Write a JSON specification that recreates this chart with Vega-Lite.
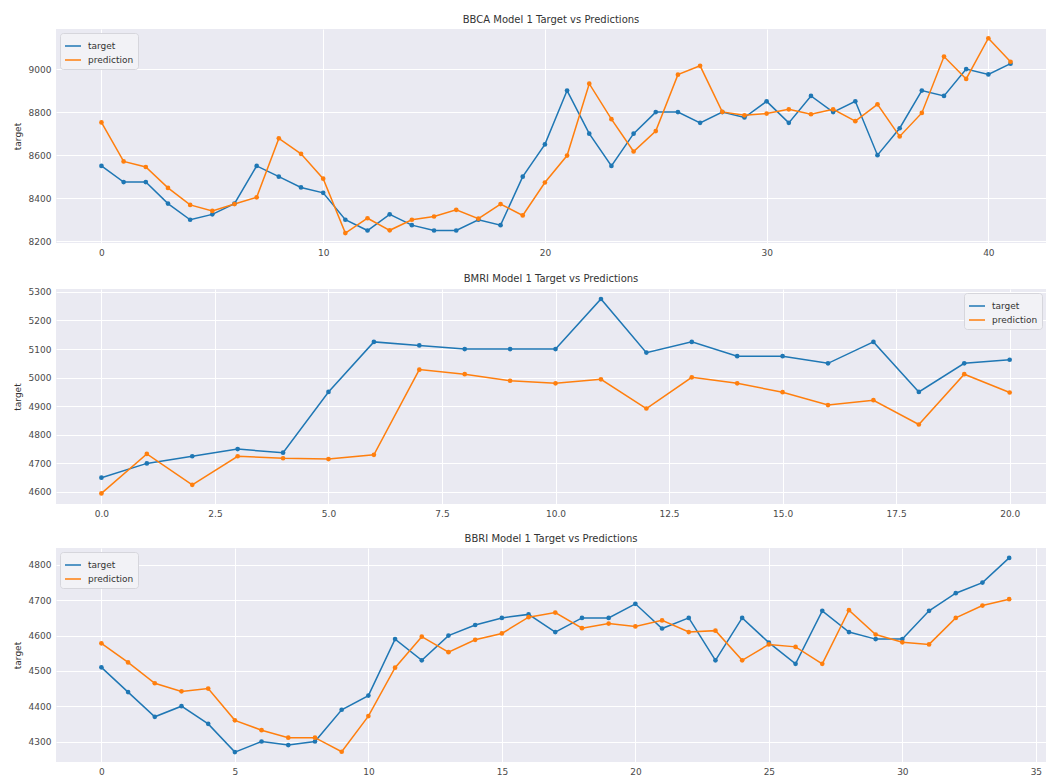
{
  "$schema": "https://vega.github.io/schema/vega-lite/v6.json",
  "background": "white",
  "padding": {"left": 13, "top": 15, "right": 0, "bottom": 0},
  "spacing": 16,
  "config": {
    "font": "DejaVu Sans",
    "view": {"fill": "#EAEAF2", "stroke": null},
    "axis": {
      "domain": false, "ticks": false, "gridColor": "#FFFFFF", "gridWidth": 1, "gridOpacity": 1,
      "labelFont": "DejaVu Sans", "labelFontSize": 9, "labelColor": "#4a4a4a", "labelPadding": 5,
      "titleFont": "DejaVu Sans", "titleFontSize": 9, "titleFontWeight": "normal", "titleColor": "#333333", "titlePadding": 6
    },
    "title": {"font": "DejaVu Sans", "fontSize": 10, "fontWeight": "normal", "color": "#333333", "offset": 4},
    "legend": {
      "offset": 4, "padding": 4, "fillColor": "#F2F2F6", "strokeColor": "#D6D6DC", "cornerRadius": 3,
      "symbolType": "stroke", "symbolSize": 256, "symbolStrokeWidth": 1.5,
      "labelFont": "DejaVu Sans", "labelFontSize": 9, "labelColor": "#333333", "labelOffset": 6, "rowPadding": 0
    },
    "line": {"strokeWidth": 1.5},
    "point": {"size": 22, "filled": true, "opacity": 1}
  },
  "resolve": {
    "scale": {"x": "independent", "y": "independent", "color": "independent"},
    "axis": {"x": "independent", "y": "independent"},
    "legend": {"color": "independent"}
  },
  "datasets": {
    "bbca": [
      {"i":0,"series":"target","value":8550},{"i":1,"series":"target","value":8475},{"i":2,"series":"target","value":8475},{"i":3,"series":"target","value":8375},{"i":4,"series":"target","value":8300},{"i":5,"series":"target","value":8325},{"i":6,"series":"target","value":8375},{"i":7,"series":"target","value":8550},{"i":8,"series":"target","value":8500},{"i":9,"series":"target","value":8450},{"i":10,"series":"target","value":8425},{"i":11,"series":"target","value":8300},{"i":12,"series":"target","value":8250},{"i":13,"series":"target","value":8325},{"i":14,"series":"target","value":8275},{"i":15,"series":"target","value":8250},{"i":16,"series":"target","value":8250},{"i":17,"series":"target","value":8300},{"i":18,"series":"target","value":8275},{"i":19,"series":"target","value":8500},{"i":20,"series":"target","value":8650},{"i":21,"series":"target","value":8900},{"i":22,"series":"target","value":8700},{"i":23,"series":"target","value":8550},{"i":24,"series":"target","value":8700},{"i":25,"series":"target","value":8800},{"i":26,"series":"target","value":8800},{"i":27,"series":"target","value":8750},{"i":28,"series":"target","value":8800},{"i":29,"series":"target","value":8775},{"i":30,"series":"target","value":8850},{"i":31,"series":"target","value":8750},{"i":32,"series":"target","value":8875},{"i":33,"series":"target","value":8800},{"i":34,"series":"target","value":8850},{"i":35,"series":"target","value":8600},{"i":36,"series":"target","value":8725},{"i":37,"series":"target","value":8900},{"i":38,"series":"target","value":8875},{"i":39,"series":"target","value":9000},{"i":40,"series":"target","value":8975},{"i":41,"series":"target","value":9025},
      {"i":0,"series":"prediction","value":8752},{"i":1,"series":"prediction","value":8571},{"i":2,"series":"prediction","value":8545},{"i":3,"series":"prediction","value":8448},{"i":4,"series":"prediction","value":8369},{"i":5,"series":"prediction","value":8341},{"i":6,"series":"prediction","value":8373},{"i":7,"series":"prediction","value":8404},{"i":8,"series":"prediction","value":8678},{"i":9,"series":"prediction","value":8606},{"i":10,"series":"prediction","value":8491},{"i":11,"series":"prediction","value":8238},{"i":12,"series":"prediction","value":8307},{"i":13,"series":"prediction","value":8251},{"i":14,"series":"prediction","value":8300},{"i":15,"series":"prediction","value":8315},{"i":16,"series":"prediction","value":8346},{"i":17,"series":"prediction","value":8305},{"i":18,"series":"prediction","value":8373},{"i":19,"series":"prediction","value":8320},{"i":20,"series":"prediction","value":8473},{"i":21,"series":"prediction","value":8598},{"i":22,"series":"prediction","value":8932},{"i":23,"series":"prediction","value":8767},{"i":24,"series":"prediction","value":8617},{"i":25,"series":"prediction","value":8712},{"i":26,"series":"prediction","value":8974},{"i":27,"series":"prediction","value":9015},{"i":28,"series":"prediction","value":8801},{"i":29,"series":"prediction","value":8785},{"i":30,"series":"prediction","value":8793},{"i":31,"series":"prediction","value":8813},{"i":32,"series":"prediction","value":8790},{"i":33,"series":"prediction","value":8813},{"i":34,"series":"prediction","value":8758},{"i":35,"series":"prediction","value":8836},{"i":36,"series":"prediction","value":8687},{"i":37,"series":"prediction","value":8796},{"i":38,"series":"prediction","value":9058},{"i":39,"series":"prediction","value":8954},{"i":40,"series":"prediction","value":9143},{"i":41,"series":"prediction","value":9034}
    ],
    "bmri": [
      {"i":0,"series":"target","value":4650},{"i":1,"series":"target","value":4700},{"i":2,"series":"target","value":4725},{"i":3,"series":"target","value":4750},{"i":4,"series":"target","value":4737.5},{"i":5,"series":"target","value":4950},{"i":6,"series":"target","value":5125},{"i":7,"series":"target","value":5112.5},{"i":8,"series":"target","value":5100},{"i":9,"series":"target","value":5100},{"i":10,"series":"target","value":5100},{"i":11,"series":"target","value":5275},{"i":12,"series":"target","value":5087.5},{"i":13,"series":"target","value":5125},{"i":14,"series":"target","value":5075},{"i":15,"series":"target","value":5075},{"i":16,"series":"target","value":5050},{"i":17,"series":"target","value":5125},{"i":18,"series":"target","value":4950},{"i":19,"series":"target","value":5050},{"i":20,"series":"target","value":5062.5},
      {"i":0,"series":"prediction","value":4595},{"i":1,"series":"prediction","value":4733},{"i":2,"series":"prediction","value":4625},{"i":3,"series":"prediction","value":4725},{"i":4,"series":"prediction","value":4718},{"i":5,"series":"prediction","value":4715},{"i":6,"series":"prediction","value":4730},{"i":7,"series":"prediction","value":5028},{"i":8,"series":"prediction","value":5012},{"i":9,"series":"prediction","value":4989},{"i":10,"series":"prediction","value":4980},{"i":11,"series":"prediction","value":4994},{"i":12,"series":"prediction","value":4892},{"i":13,"series":"prediction","value":5001},{"i":14,"series":"prediction","value":4980},{"i":15,"series":"prediction","value":4949},{"i":16,"series":"prediction","value":4904},{"i":17,"series":"prediction","value":4921},{"i":18,"series":"prediction","value":4836},{"i":19,"series":"prediction","value":5012},{"i":20,"series":"prediction","value":4948}
    ],
    "bbri": [
      {"i":0,"series":"target","value":4510},{"i":1,"series":"target","value":4440},{"i":2,"series":"target","value":4370},{"i":3,"series":"target","value":4400},{"i":4,"series":"target","value":4350},{"i":5,"series":"target","value":4270},{"i":6,"series":"target","value":4300},{"i":7,"series":"target","value":4290},{"i":8,"series":"target","value":4300},{"i":9,"series":"target","value":4390},{"i":10,"series":"target","value":4430},{"i":11,"series":"target","value":4590},{"i":12,"series":"target","value":4530},{"i":13,"series":"target","value":4600},{"i":14,"series":"target","value":4630},{"i":15,"series":"target","value":4650},{"i":16,"series":"target","value":4660},{"i":17,"series":"target","value":4610},{"i":18,"series":"target","value":4650},{"i":19,"series":"target","value":4650},{"i":20,"series":"target","value":4690},{"i":21,"series":"target","value":4620},{"i":22,"series":"target","value":4650},{"i":23,"series":"target","value":4530},{"i":24,"series":"target","value":4650},{"i":25,"series":"target","value":4580},{"i":26,"series":"target","value":4520},{"i":27,"series":"target","value":4670},{"i":28,"series":"target","value":4610},{"i":29,"series":"target","value":4590},{"i":30,"series":"target","value":4590},{"i":31,"series":"target","value":4670},{"i":32,"series":"target","value":4720},{"i":33,"series":"target","value":4750},{"i":34,"series":"target","value":4820},
      {"i":0,"series":"prediction","value":4578},{"i":1,"series":"prediction","value":4524},{"i":2,"series":"prediction","value":4465},{"i":3,"series":"prediction","value":4442},{"i":4,"series":"prediction","value":4450},{"i":5,"series":"prediction","value":4360},{"i":6,"series":"prediction","value":4332},{"i":7,"series":"prediction","value":4311},{"i":8,"series":"prediction","value":4311},{"i":9,"series":"prediction","value":4271},{"i":10,"series":"prediction","value":4372},{"i":11,"series":"prediction","value":4509},{"i":12,"series":"prediction","value":4597},{"i":13,"series":"prediction","value":4553},{"i":14,"series":"prediction","value":4588},{"i":15,"series":"prediction","value":4606},{"i":16,"series":"prediction","value":4652},{"i":17,"series":"prediction","value":4665},{"i":18,"series":"prediction","value":4621},{"i":19,"series":"prediction","value":4634},{"i":20,"series":"prediction","value":4626},{"i":21,"series":"prediction","value":4643},{"i":22,"series":"prediction","value":4610},{"i":23,"series":"prediction","value":4614},{"i":24,"series":"prediction","value":4530},{"i":25,"series":"prediction","value":4575},{"i":26,"series":"prediction","value":4568},{"i":27,"series":"prediction","value":4520},{"i":28,"series":"prediction","value":4672},{"i":29,"series":"prediction","value":4603},{"i":30,"series":"prediction","value":4581},{"i":31,"series":"prediction","value":4575},{"i":32,"series":"prediction","value":4650},{"i":33,"series":"prediction","value":4685},{"i":34,"series":"prediction","value":4703}
    ]
  },
  "vconcat": [
    {
      "title": "BBCA Model 1 Target vs Predictions",
      "width": 990, "height": 214,
      "data": {"name": "bbca"},
      "encoding": {
        "x": {"field": "i", "type": "quantitative", "scale": {"domain": [-2.05, 42.6], "nice": false, "zero": false}, "axis": {"title": null, "values": [0, 10, 20, 30, 40], "format": "d"}},
        "y": {"field": "value", "type": "quantitative", "scale": {"domain": [8192, 9186], "nice": false, "zero": false}, "axis": {"title": "target", "values": [8200, 8400, 8600, 8800, 9000], "format": "d"}},
        "color": {"field": "series", "type": "nominal", "sort": null, "scale": {"domain": ["target", "prediction"], "range": ["#1f77b4", "#ff7f0e"]}, "legend": {"orient": "top-left", "title": null}}
      },
      "layer": [{"mark": {"type": "line"}}, {"mark": {"type": "point"}}]
    },
    {
      "title": "BMRI Model 1 Target vs Predictions",
      "width": 990, "height": 215,
      "data": {"name": "bmri"},
      "encoding": {
        "x": {"field": "i", "type": "quantitative", "scale": {"domain": [-1, 20.8], "nice": false, "zero": false}, "axis": {"title": null, "values": [0, 2.5, 5, 7.5, 10, 12.5, 15, 17.5, 20], "format": ".1f"}},
        "y": {"field": "value", "type": "quantitative", "scale": {"domain": [4558, 5310], "nice": false, "zero": false}, "axis": {"title": "target", "values": [4600, 4700, 4800, 4900, 5000, 5100, 5200, 5300], "format": "d"}},
        "color": {"field": "series", "type": "nominal", "sort": null, "scale": {"domain": ["target", "prediction"], "range": ["#1f77b4", "#ff7f0e"]}, "legend": {"orient": "top-right", "title": null}}
      },
      "layer": [{"mark": {"type": "line"}}, {"mark": {"type": "point"}}]
    },
    {
      "title": "BBRI Model 1 Target vs Predictions",
      "width": 990, "height": 214,
      "data": {"name": "bbri"},
      "encoding": {
        "x": {"field": "i", "type": "quantitative", "scale": {"domain": [-1.7, 35.38], "nice": false, "zero": false}, "axis": {"title": null, "values": [0, 5, 10, 15, 20, 25, 30, 35], "format": "d"}},
        "y": {"field": "value", "type": "quantitative", "scale": {"domain": [4242, 4848], "nice": false, "zero": false}, "axis": {"title": "target", "values": [4300, 4400, 4500, 4600, 4700, 4800], "format": "d"}},
        "color": {"field": "series", "type": "nominal", "sort": null, "scale": {"domain": ["target", "prediction"], "range": ["#1f77b4", "#ff7f0e"]}, "legend": {"orient": "top-left", "title": null}}
      },
      "layer": [{"mark": {"type": "line"}}, {"mark": {"type": "point"}}]
    }
  ]
}
